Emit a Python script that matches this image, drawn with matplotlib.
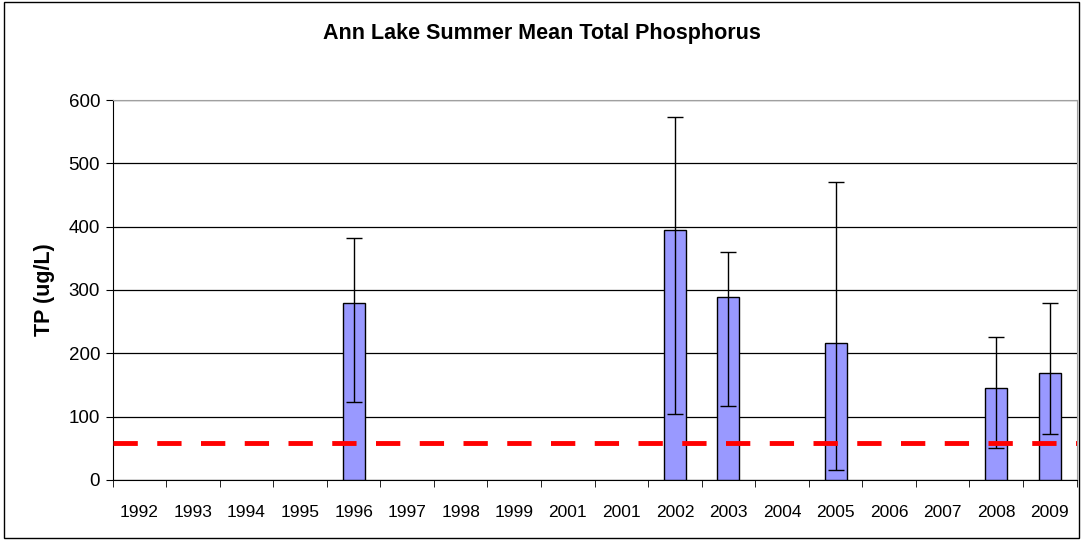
import matplotlib
matplotlib.use("Agg")
import matplotlib.pyplot as plt
import numpy as np
from matplotlib.patches import Rectangle

years = ["1992", "1993", "1994", "1995", "1996", "1997", "1998", "1999", "2001",
         "2001", "2002", "2003", "2004", "2005", "2006", "2007", "2008", "2009"]
tp_mean = [np.nan, np.nan, np.nan, np.nan, 280, np.nan, np.nan, np.nan, np.nan,
           np.nan, 395, 289, np.nan, 217, np.nan, np.nan, 145, 169]
err_low = [np.nan, np.nan, np.nan, np.nan, 123, np.nan, np.nan, np.nan, np.nan,
           np.nan, 104, 116, np.nan, 16, np.nan, np.nan, 51, 72]
err_high = [np.nan, np.nan, np.nan, np.nan, 382, np.nan, np.nan, np.nan, np.nan,
            np.nan, 573, 360, np.nan, 470, np.nan, np.nan, 225, 279]
standard = 58

plt.rcParams['font.family'] = ['Liberation Sans', 'DejaVu Sans']

fig = plt.figure(figsize=(10.83, 5.41), dpi=100)
fig.patches.append(Rectangle((0.004, 0.006), 0.992, 0.99, transform=fig.transFigure,
                             fill=False, edgecolor='black', linewidth=1.0))
ax = fig.add_axes([0.104, 0.113, 0.890, 0.702])

x = np.arange(len(years))
vals = np.array(tp_mean, dtype=float)
lo = np.array(err_low, dtype=float)
hi = np.array(err_high, dtype=float)
mask = ~np.isnan(vals)

ax.bar(x[mask], vals[mask], width=0.41, color='#9999ff', edgecolor='black',
       linewidth=1.0, zorder=3)
ax.errorbar(x[mask], vals[mask], yerr=[vals[mask] - lo[mask], hi[mask] - vals[mask]],
            fmt='none', ecolor='black', elinewidth=1.0, capsize=6, capthick=1.0, zorder=4)
ax.axhline(standard, color='#ff0000', linestyle=(0, (5, 4)), linewidth=3.5, zorder=5)

ax.set_xlim(-0.5, len(years) - 0.5)
ax.set_ylim(0, 600)
ax.set_yticks(range(0, 601, 100))
ax.yaxis.grid(True, color='black', linewidth=0.9, zorder=0)
ax.set_axisbelow(True)

ax.set_xticks(x)
ax.set_xticklabels(years, fontsize=12.5)
ax.set_xticks(np.arange(-0.5, len(years), 1.0), minor=True)
ax.tick_params(axis='x', which='major', length=0, pad=18)
ax.tick_params(axis='x', which='minor', length=5, color='black', direction='out')
ax.tick_params(axis='y', labelsize=13.5, length=5, direction='out', pad=4)

for s in ['top', 'right']:
    ax.spines[s].set_color('#a0a0a0')
for s in ['left', 'bottom']:
    ax.spines[s].set_color('black')

ax.set_ylabel('TP (ug/L)', fontsize=15.5, fontweight='bold', labelpad=10)
fig.text(0.5, 0.938, 'Ann Lake Summer Mean Total Phosphorus', ha='center', va='center',
         fontsize=15.5, fontweight='bold')

fig.savefig('out.png', dpi=100)
